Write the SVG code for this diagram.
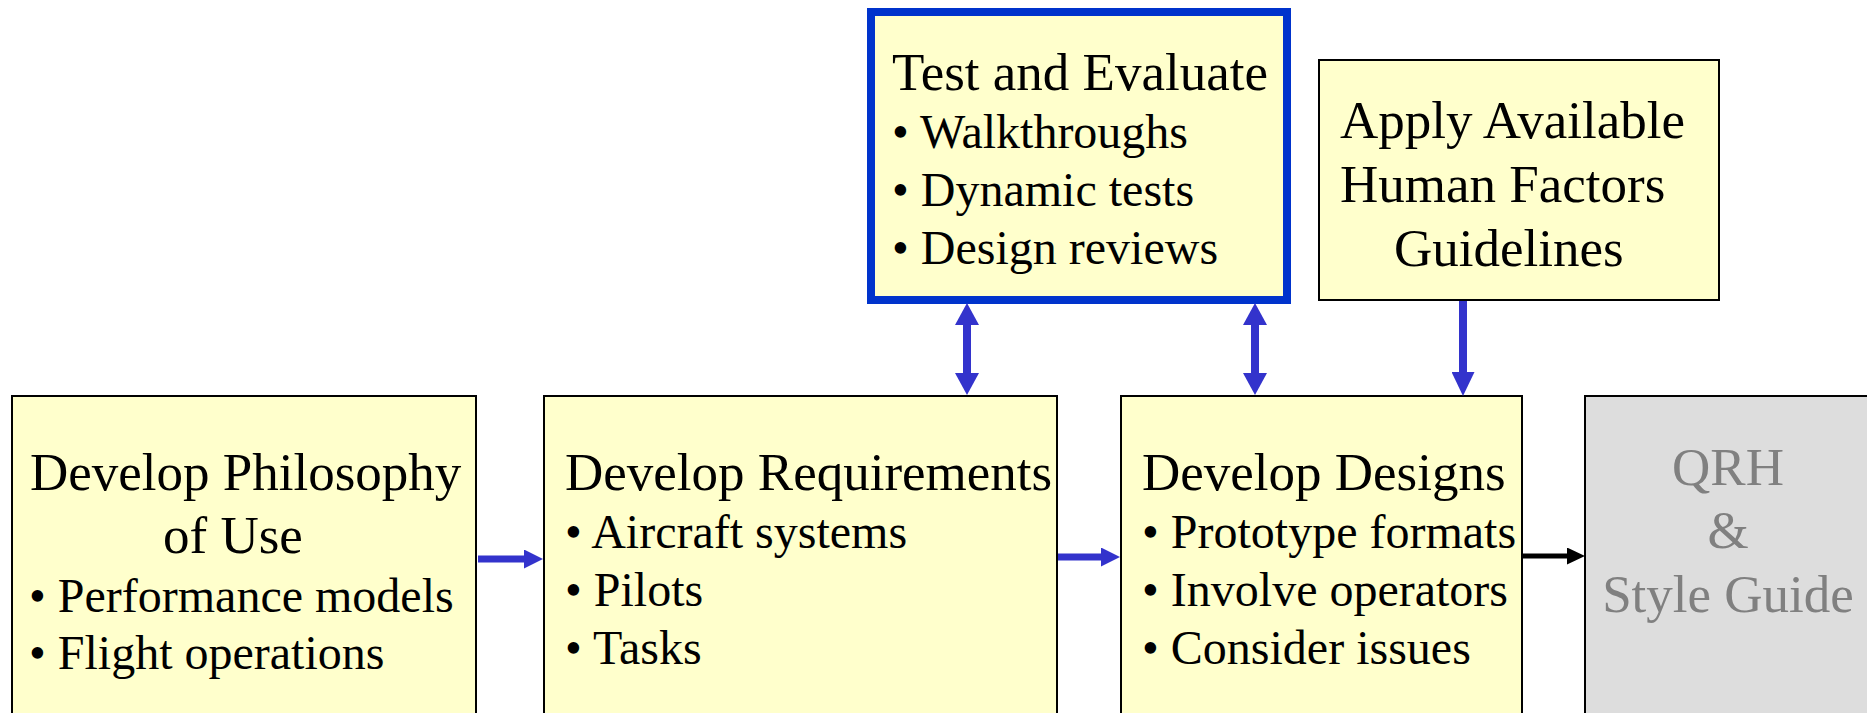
<svg xmlns="http://www.w3.org/2000/svg" width="1867" height="713" viewBox="0 0 1867 713">
<style>
.box{fill:#FFFFCC;stroke:#000;stroke-width:2}
.gbox{fill:#DDDDDD;stroke:#000;stroke-width:2}
.tb{fill:#FFFFCC;stroke:#0033CC;stroke-width:8}
.t{font-family:"Liberation Serif","Times New Roman",serif;font-size:53px;fill:#000}
.b{font-family:"Liberation Serif","Times New Roman",serif;font-size:48px;fill:#000}
.g{font-family:"Liberation Serif","Times New Roman",serif;font-size:53px;fill:#808080;text-anchor:middle}
.blue{stroke:#3333CC;stroke-width:7;fill:none}
.vb{stroke:#3333CC;stroke-width:8;fill:none}
.blk{stroke:#000;stroke-width:5;fill:none}
</style>
<defs>
<marker id="ab" viewBox="0 0 19 19" refX="0" refY="9.5" markerWidth="19" markerHeight="19" markerUnits="userSpaceOnUse" orient="auto-start-reverse"><path d="M0,0 L19,9.5 L0,19 z" fill="#3333CC"/></marker>
<marker id="av" viewBox="0 0 22 24" refX="0" refY="12" markerWidth="22" markerHeight="24" markerUnits="userSpaceOnUse" orient="auto-start-reverse"><path d="M0,0 L22,12 L0,24 z" fill="#3333CC"/></marker>
<marker id="abL" viewBox="0 0 24 23" refX="0" refY="11.5" markerWidth="24" markerHeight="23" markerUnits="userSpaceOnUse" orient="auto"><path d="M0,0 L24,11.5 L0,23 z" fill="#3333CC"/></marker>
<marker id="ak" viewBox="0 0 18 17" refX="0" refY="8.5" markerWidth="18" markerHeight="17" markerUnits="userSpaceOnUse" orient="auto"><path d="M0,0 L18,8.5 L0,17 z" fill="#000"/></marker>
</defs>
<g id="test">
<rect class="tb" x="871" y="12" width="416" height="288"/>
<text class="t" x="892" y="90">Test and Evaluate</text>
<text class="b" x="892" y="148">• Walkthroughs</text>
<text class="b" x="892" y="206">• Dynamic tests</text>
<text class="b" x="892" y="264">• Design reviews</text>
</g>
<g id="apply">
<rect class="box" x="1319" y="60" width="400" height="240"/>
<text class="t" x="1340" y="138">Apply Available</text>
<text class="t" x="1340" y="202">Human Factors</text>
<text class="t" x="1394" y="266">Guidelines</text>
</g>
<g id="philosophy">
<rect class="box" x="12" y="396" width="464" height="340"/>
<text class="t" x="30" y="490">Develop Philosophy</text>
<text class="t" x="163" y="553">of Use</text>
<text class="b" x="29" y="612">• Performance models</text>
<text class="b" x="29" y="669">• Flight operations</text>
</g>
<g id="requirements">
<rect class="box" x="544" y="396" width="513" height="340"/>
<text class="t" x="565" y="490">Develop Requirements</text>
<text class="b" x="565" y="548">• Aircraft systems</text>
<text class="b" x="565" y="606">• Pilots</text>
<text class="b" x="565" y="664">• Tasks</text>
</g>
<g id="designs">
<rect class="box" x="1121" y="396" width="401" height="340"/>
<text class="t" x="1142" y="490">Develop Designs</text>
<text class="b" x="1142" y="548">• Prototype formats</text>
<text class="b" x="1142" y="606">• Involve operators</text>
<text class="b" x="1142" y="664">• Consider issues</text>
</g>
<g id="qrh">
<rect class="gbox" x="1585" y="396" width="300" height="340"/>
<text class="g" x="1728" y="485">QRH</text>
<text class="g" x="1728" y="548">&amp;</text>
<text class="g" x="1728" y="612">Style Guide</text>
</g>
<g id="connectors">
<line class="blue" x1="478" y1="559" x2="524" y2="559" marker-end="url(#ab)"/>
<line class="blue" x1="1058" y1="557" x2="1101" y2="557" marker-end="url(#ab)"/>
<line class="blk" x1="1523" y1="556" x2="1567" y2="556" marker-end="url(#ak)"/>
<line class="vb" x1="967" y1="325" x2="967" y2="373" marker-start="url(#av)" marker-end="url(#av)"/>
<line class="vb" x1="1255" y1="325" x2="1255" y2="373" marker-start="url(#av)" marker-end="url(#av)"/>
<line class="vb" x1="1463" y1="301" x2="1463" y2="372" marker-end="url(#abL)"/>
</g>
</svg>
